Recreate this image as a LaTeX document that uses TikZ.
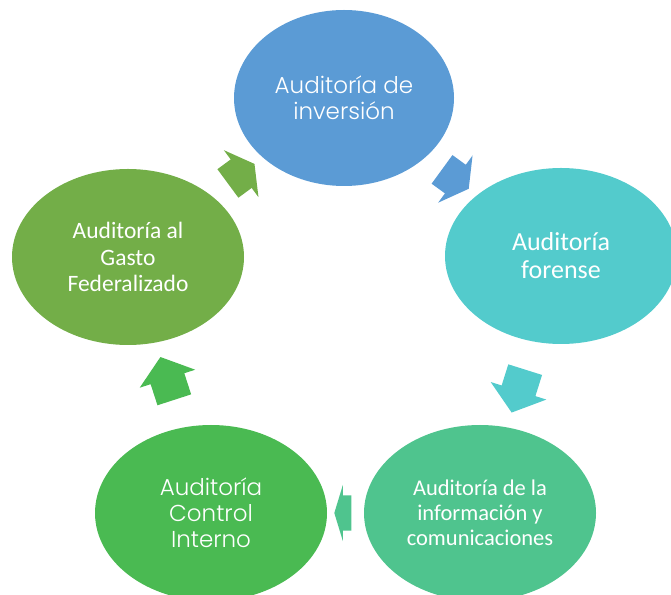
\documentclass[tikz,border=0pt]{standalone}
\usepackage{fontspec}
\newfontfamily\calibri{Carlito}
\newfontfamily\gothic{Poppins Light}
\usetikzlibrary{shapes.geometric,shapes.arrows,calc}

\definecolor{azul}{RGB}{91,155,213}
\definecolor{turquesa}{RGB}{83,203,204}
\definecolor{menta}{RGB}{79,196,142}
\definecolor{verde}{RGB}{74,186,82}
\definecolor{olivo}{RGB}{115,174,72}

\tikzset{
  fase/.style={ellipse, fill=#1, minimum width=232pt, minimum height=176pt,
    inner sep=0pt, text=white, align=center},
  flecha/.style={single arrow, fill=#1, inner xsep=0pt, inner ysep=17.5pt,
    single arrow head extend=11.5pt, midway, sloped, allow upside down}
}

\begin{document}
\begin{tikzpicture}[x=1pt,y=1pt]
      \clip (0,0) rectangle (671,594);
      % stages
      \node [fase=azul, minimum width=220pt,
        font=\gothic\fontsize{23}{26}\selectfont] (inv) at (344,496)
        {Auditoría de\\inversión};
      \node [fase=turquesa, font=\calibri\fontsize{26}{28}\selectfont]
        (for) at (561,338) {Auditoría\\forense};
      \node [fase=menta, font=\calibri\fontsize{22.5}{25}\selectfont]
        (tic) at (480,81) {Auditoría de la\\información y\\comunicaciones};
      \node [fase=verde, font=\gothic\fontsize{23}{26}\selectfont]
        (ci) at (211,81) {Auditoría\\Control\\Interno};
      \node [fase=olivo, font=\calibri\fontsize{23.5}{26.5}\selectfont]
        (gf) at (128,337) {Auditoría al\\Gasto\\Federalizado};
      % cycle arrows
      \path (inv) -- (for) node [flecha=azul, minimum height=33pt,
        single arrow tip angle=121] {};
      \path (for) -- (tic) node [flecha=turquesa, minimum height=45pt,
        single arrow tip angle=104] {};
      \path (tic) -- (ci) node [flecha=menta, minimum height=17pt,
        single arrow head extend=10.5pt, single arrow tip angle=146] {};
      \path (ci) -- (gf) node [flecha=verde, minimum height=45pt,
        single arrow tip angle=104] {};
      \path (gf) -- (inv) node [flecha=olivo, minimum height=33pt,
        single arrow tip angle=121] {};
\end{tikzpicture}
\end{document}
